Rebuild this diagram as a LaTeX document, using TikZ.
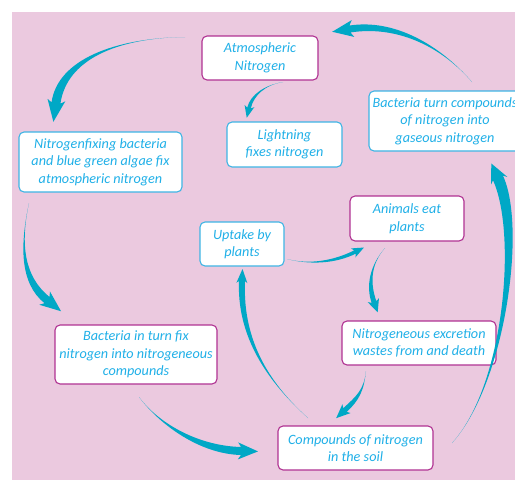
\documentclass[tikz,border=0pt]{standalone}
\usepackage{fontspec}
\setmainfont{Carlito}
\usetikzlibrary{calc}
\definecolor{bgpink}{RGB}{235,201,223}
\definecolor{txtcyan}{RGB}{32,176,232}
\definecolor{arrcol}{RGB}{0,168,198}
\definecolor{bordm}{RGB}{176,50,146}
\definecolor{bordc}{RGB}{62,180,228}
\tikzset{
  cbox/.style={draw, line width=1.1pt, rounded corners=5pt, fill=white, align=center, inner sep=0pt,
    text=txtcyan, font=\fontsize{14.2}{17.5}\selectfont\itshape},
  boxm/.style={cbox, draw=bordm},
  boxc/.style={cbox, draw=bordc}
}
% #1 start, #2 c1, #3 c2, #4 end, #5 body half width, #6 head half width, #7 head length, #8 barb back
\newcommand\tarrow[8]{%
  \path ($(#4)!#5!90:(#3)$) coordinate (tpA)
        ($(#4)!#5!-90:(#3)$) coordinate (tpB)
        ($(#4)!#8!(#3)$) coordinate (tpK)
        ($(#4)!-#7!(#3)$) coordinate (tpT);
  \path ($(tpK)!#6!90:(#3)$) coordinate (tpHA)
        ($(tpK)!#6!-90:(#3)$) coordinate (tpHB)
        ($(#3)+(tpA)-(#4)$) coordinate (tpCA)
        ($(#3)+(tpB)-(#4)$) coordinate (tpCB);
  \fill[arrcol] (#1) .. controls (#2) and (tpCA) .. (tpA) -- (tpHA) -- (tpT) -- (tpHB) -- (tpB)
     .. controls (tpCB) and (#2) .. (#1) -- cycle;
}
\begin{document}
\begin{tikzpicture}[x=1pt,y=-1pt]
\useasboundingbox (0,0) rectangle (515,480);
\clip (0,0) rectangle (515,480);
\fill[white] (0,0) rectangle (515,480);
\fill[bgpink] (12,12) rectangle (520,485);

\node[boxm, minimum width=116pt, minimum height=44pt] (atm) at (260,58) {Atmospheric\\Nitrogen};
\node[boxc, minimum width=163pt, minimum height=60pt] (fix) at (100.5,162) {Nitrogenfixing bacteria\\and blue green algae fix\\atmospheric nitrogen};
\node[boxc, minimum width=115pt, minimum height=45pt] (light) at (284.5,144.5) {Lightning\\fixes nitrogen};
\node[boxc, minimum width=152pt, minimum height=60pt] (denit) at (445,121) {Bacteria turn compounds\\of nitrogen into\\gaseous nitrogen};
\node[boxm, minimum width=114pt, minimum height=45pt] (anim) at (407,218.5) {Animals eat\\plants};
\node[boxc, minimum width=84pt, minimum height=44pt] (upt) at (242,244) {Uptake by\\plants};
\node[boxm, minimum width=162pt, minimum height=59pt] (bact) at (136,354.5) {Bacteria in turn fix\\nitrogen into nitrogeneous\\compounds};
\node[boxm, minimum width=154pt, minimum height=44pt] (excr) at (419,343) {Nitrogeneous excretion\\wastes from and death};
\node[boxm, minimum width=155pt, minimum height=44pt] (soil) at (355.5,448) {Compounds of nitrogen\\in the soil};

% connector end points
\coordinate (a1s) at (185,37);   \coordinate (a1e) at (56,103);
\coordinate (a2s) at (283,82);   \coordinate (a2e) at (249,108);
\coordinate (a3s) at (472,82);   \coordinate (a3e) at (350,29);
\coordinate (a4s) at (29,203);   \coordinate (a4e) at (47,300);
\coordinate (a5s) at (139,397);  \coordinate (a5e) at (241,451);
\coordinate (a6s) at (308,418);  \coordinate (a6e) at (242,281);
\coordinate (a7s) at (287,259);  \coordinate (a7e) at (355,252);
\coordinate (a8s) at (385,248);  \coordinate (a8e) at (374,302);
\coordinate (a9s) at (366,371);  \coordinate (a9e) at (345,410);
\coordinate (a10s) at (452,443); \coordinate (a10e) at (498,178);

\tarrow{a1s}{115,38}{62,60}{a1e}{4.5pt}{9pt}{19pt}{3pt}
\tarrow{a2s}{265,85}{252,95}{a2e}{1.8pt}{5pt}{10pt}{2pt}
\tarrow{a3s}{440,45}{395,22}{a3e}{3.5pt}{8.5pt}{18pt}{3pt}
\tarrow{a4s}{20,245}{22,280}{a4e}{4pt}{8.5pt}{18pt}{3pt}
\tarrow{a5s}{160,425}{200,450}{a5e}{4pt}{8.5pt}{17pt}{3pt}
\tarrow{a6s}{260,375}{240,330}{a6e}{3pt}{5.5pt}{12pt}{2pt}
\tarrow{a7s}{310,265}{335,262}{a7e}{1.8pt}{5pt}{10pt}{2pt}
\tarrow{a8s}{370,265}{368,285}{a8e}{2.5pt}{6pt}{11pt}{2pt}
\tarrow{a9s}{364,390}{358,398}{a9e}{2.5pt}{6pt}{12pt}{2pt}
\tarrow{a10s}{505,385}{522,230}{a10e}{5.5pt}{9pt}{16pt}{3pt}
\end{tikzpicture}
\end{document}
